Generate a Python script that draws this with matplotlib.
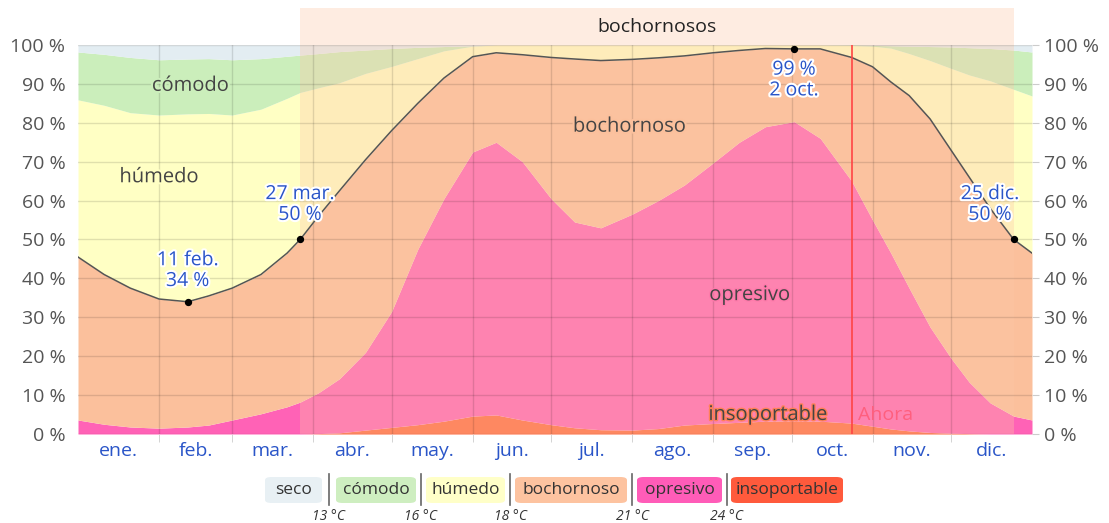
import numpy as np
import matplotlib.pyplot as plt
import matplotlib.patheffects as pe
from matplotlib.patches import FancyBboxPatch, Rectangle
import matplotlib.transforms as mtransforms

plt.rcParams['font.family'] = ['Open Sans', 'DejaVu Sans']

# day of year for each sample
days = [0, 10, 20, 31, 42, 50, 59, 70, 80, 85, 92, 100, 110, 120, 130, 140, 151, 160, 170, 181,
        190, 200, 212, 222, 232, 243, 253, 263, 274, 284, 296, 304, 311, 318, 326, 334, 341, 349, 358, 365]

# cumulative upper edges of each band (%)
top_insoportable = [0, 0, 0, 0, 0, 0, 0, 0, 0, 0, 0.1, 0.3, 1, 1.7, 2.4, 3.3, 4.6, 4.9, 3.6, 2.4,
                    1.6, 1.1, 1, 1.4, 2.3, 2.7, 3, 3.3, 3.4, 3.3, 2.8, 2, 1.3, 0.8, 0.4, 0.2, 0.1, 0, 0, 0]
top_opresivo = [3.6, 2.5, 1.8, 1.5, 1.8, 2.3, 3.6, 5.2, 7, 8.2, 10.6, 14.2, 21, 31.5, 47.5, 60.5, 72.5, 75, 70, 60.5,
                54.5, 53, 56.5, 60, 64, 69.7, 75, 79, 80.3, 76, 65, 55, 46.5, 37.5, 27.5, 19.5, 13.3, 8, 4.6, 3.6]
top_bochornoso = [45.5, 41, 37.5, 34.7, 34, 35.5, 37.5, 41, 46.5, 50, 56, 62.5, 70.5, 78, 85, 91.5, 97, 98, 97.5, 96.8,
                  96.4, 96, 96.3, 96.7, 97.2, 98, 98.6, 99.1, 99, 99, 96.8, 94.4, 90.5, 87, 81, 73, 66, 58, 50, 46.5]
top_humedo = [85.9, 84.5, 82.6, 82, 82.3, 82.4, 82, 83.5, 86.3, 87.8, 89, 90.3, 92.7, 94.5, 96.5, 98.5, 99.7, 100, 100, 100,
              100, 100, 100, 100, 100, 100, 100, 100, 100, 100, 99.9, 99.7, 99.2, 97.8, 96, 94, 92.3, 90.8, 88.6, 86.9]
top_comodo = [98.2, 97.6, 96.8, 96.2, 96.4, 96.5, 96.2, 96.5, 97.1, 97.4, 97.8, 98.3, 98.7, 99.1, 99.4, 99.6, 99.8, 100, 100, 100,
              100, 100, 100, 100, 100, 100, 100, 100, 100, 100, 100, 99.9, 99.8, 99.7, 99.6, 99.5, 99.3, 99.1, 98.7, 98.2]

month_names = ['ene.', 'feb.', 'mar.', 'abr.', 'may.', 'jun.', 'jul.', 'ago.', 'sep.', 'oct.', 'nov.', 'dic.']
month_edges = [0, 31, 59, 90, 120, 151, 181, 212, 243, 273, 304, 334, 365]

mark_days = [42, 85, 274, 358]
mark_vals = [34, 50, 99, 50]
mark_texts = ['11 feb.\n34 %', '27 mar.\n50 %', '99 %\n2 oct.', '25 dic.\n50 %']
mark_text_pos = [(42, 42), (85, 59), (274, 91), (349, 59)]

muggy_start, muggy_end = 85, 358
now_day = 296

legend_labels = ['seco', 'cómodo', 'húmedo', 'bochornoso', 'opresivo', 'insoportable']
legend_colors = ['#e8f0f4', '#ceeec0', '#ffffc8', '#fdc3a0', '#ff5cb8', '#ff5a3c']
legend_temps = ['13 °C', '16 °C', '18 °C', '21 °C', '24 °C']

c_seco, c_comodo, c_humedo, c_boch, c_opr, c_ins = '#e3edf2', '#cbeebb', '#ffffc4', '#fbc09c', '#ff62b6', '#ff6a40'

W, H = 1109, 523
fig = plt.figure(figsize=(W / 100, H / 100), dpi=100)
ax = fig.add_axes([78 / W, 89 / H, 954 / W, 389 / H])

zeros = np.zeros(len(days))
ax.fill_between(days, zeros, top_insoportable, color=c_ins, lw=0)
ax.fill_between(days, top_insoportable, top_opresivo, color=c_opr, lw=0)
ax.fill_between(days, top_opresivo, top_bochornoso, color=c_boch, lw=0)
ax.fill_between(days, top_bochornoso, top_humedo, color=c_humedo, lw=0)
ax.fill_between(days, top_humedo, top_comodo, color=c_comodo, lw=0)
ax.fill_between(days, top_comodo, np.full(len(days), 100), color=c_seco, lw=0)

# muggy period band (also covers the title strip above the plot)
trans = mtransforms.blended_transform_factory(ax.transData, ax.transAxes)
ax.add_patch(Rectangle((muggy_start, 0), muggy_end - muggy_start, 1.095, transform=trans,
                       color='#fcc8a6', alpha=0.33, lw=0, clip_on=False, zorder=2))
ax.text((muggy_start + muggy_end) / 2, 1.047, 'bochornosos', transform=trans,
        ha='center', va='center', fontsize=14, color='#222')

ax.plot(days, top_bochornoso, color='#555555', lw=1.1, zorder=4)

for y in range(0, 101, 10):
    ax.axhline(y, color='#000000', alpha=0.12, lw=1, zorder=3)
for d in month_edges[1:-1]:
    ax.axvline(d, color='#000000', alpha=0.12, lw=1, zorder=3)

ax.axvline(now_day, color='#ff4444', lw=1.2, zorder=4)
ax.text(now_day + 2.5, 5, 'Ahora', fontsize=14, color='#ff5f7e', va='center', ha='left', zorder=5)

halo = lambda c, w=3: [pe.withStroke(linewidth=w, foreground=c)]
ax.text(43, 89.5, 'cómodo', ha='center', va='center', fontsize=14.5, color='#444', path_effects=halo(c_comodo), zorder=5)
ax.text(31, 66, 'húmedo', ha='center', va='center', fontsize=14.5, color='#444', path_effects=halo(c_humedo), zorder=5)
ax.text(211, 79, 'bochornoso', ha='center', va='center', fontsize=14.5, color='#444', path_effects=halo(c_boch), zorder=5)
ax.text(257, 35.7, 'opresivo', ha='center', va='center', fontsize=14.5, color='#444', path_effects=halo('#ff7aab', 2), zorder=5)
ax.text(264, 4.9, 'insoportable', ha='center', va='center', fontsize=14.5, color='#444', path_effects=halo('#ff8058', 2), zorder=5)

ax.scatter(mark_days, mark_vals, s=18, color='black', zorder=6, clip_on=False)
for (tx, ty), t in zip(mark_text_pos, mark_texts):
    ax.text(tx, ty, t, ha='center', va='center', fontsize=14, color='#2a55c8', linespacing=1.2,
            path_effects=halo('white'), zorder=7)

ax.set_xlim(0, 365)
ax.set_ylim(0, 100)
ax.set_yticks(range(0, 101, 10))
ax.set_yticklabels([f'{v} %' for v in range(0, 101, 10)])
ax.tick_params(axis='y', which='both', left=False, right=True, labelleft=True, labelright=True,
               labelsize=14, labelcolor='#555', color='#cccccc', length=5, pad=4)
centers = [(a + b) / 2 for a, b in zip(month_edges[:-1], month_edges[1:])]
ax.set_xticks(centers)
ax.set_xticklabels(month_names)
ax.set_xticks(month_edges[1:-1], minor=True)
ax.tick_params(axis='x', which='major', length=0, labelsize=14, labelcolor='#2a55c8', pad=6)
ax.tick_params(axis='x', which='minor', length=6, color='#cccccc')
for s in ax.spines.values():
    s.set_visible(False)

# legend strip
box_x = [265, 336, 426, 515, 637, 731]
box_w = [57, 80, 79, 112, 85, 112]
sep_x = [329, 421, 510, 632, 727]
for x0, w, lab, c in zip(box_x, box_w, legend_labels, legend_colors):
    fig.patches.append(FancyBboxPatch((x0 / W, (H - 503) / H), w / W, 26 / H,
                                      boxstyle='round,pad=0,rounding_size=0.006',
                                      transform=fig.transFigure, fc=c, ec='none'))
    fig.text((x0 + w / 2) / W, (H - 490) / H, lab, ha='center', va='center', fontsize=12.5, color='#333')
for sx, t in zip(sep_x, legend_temps):
    fig.add_artist(plt.Line2D([sx / W, sx / W], [(H - 505) / H, (H - 474) / H], color='#666', lw=1.2,
                              transform=fig.transFigure))
    fig.text(sx / W, (H - 516) / H, t, ha='center', va='center', fontsize=10, style='italic', color='#333')

fig.savefig('out.png', dpi=100)
